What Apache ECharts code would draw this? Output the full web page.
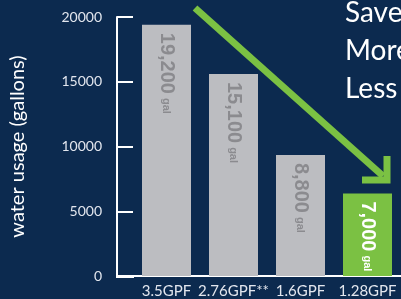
<!DOCTYPE html>
<html>
<head>
<meta charset="utf-8">
<script src="https://cdn.jsdelivr.net/npm/echarts@6/dist/echarts.min.js"></script>
<style>
  html, body { margin: 0; padding: 0; background: #0c2a4f; }
  #chart { width: 401px; height: 299px; }
</style>
</head>
<body>
<div id="chart"></div>
<script>
// toilet flush rate vs yearly water use
const categories = ['3.5GPF', '2.76GPF**', '1.6GPF', '1.28GPF']
const gallons = [19400, 15600, 9350, 6380]
const gallonLabels = ['19,200', '15,100', '8,800', '7,000']
const yTicks = [0, 5000, 10000, 15000, 20000]
const highlight = 3   // the 1.28GPF bar is green

const navy = '#0c2a4f'
const gray = '#bcbdc1'
const green = '#7bc143'

const chart = echarts.init(document.getElementById('chart'), null, { renderer: 'canvas' })

const barData = gallons.map((v, i) => ({
  value: v,
  itemStyle: { color: i === highlight ? green : gray },
  label: { color: i === highlight ? '#ffffff' : '#8b8b8f' }
}))

chart.setOption({
  backgroundColor: navy,
  animation: false,
  grid: { left: 133, right: 0, top: 17, bottom: 22 },
  title: {
    text: 'Save\nMore\nLess',
    left: 345,
    top: -6,
    padding: 0,
    textStyle: { color: '#ffffff', fontSize: 28, fontWeight: 'normal', fontFamily: 'Lato', lineHeight: 38 }
  },
  xAxis: {
    type: 'category',
    data: categories,
    axisLine: { lineStyle: { color: '#ffffff', width: 2 } },
    axisTick: { show: false },
    axisLabel: { color: '#e2e6ee', fontSize: 15, fontFamily: 'Lato', margin: 8, interval: 0 }
  },
  yAxis: {
    type: 'value',
    min: yTicks[0],
    max: yTicks[yTicks.length - 1],
    interval: yTicks[1] - yTicks[0],
    offset: 16,
    name: 'water usage (gallons)',
    nameLocation: 'middle',
    nameGap: 89,
    nameTextStyle: { color: '#ffffff', fontSize: 20, fontFamily: 'Lato' },
    axisLine: { show: true, lineStyle: { color: '#ffffff', width: 2 } },
    axisTick: { show: true, inside: true, length: 16, lineStyle: { color: '#ffffff', width: 2 } },
    splitLine: { show: false },
    axisLabel: {
      color: '#e2e6ee', fontSize: 14, fontFamily: 'Lato', margin: 15, padding: [0, 0, 4, 0],
      formatter: v => String(v)
    }
  },
  series: [{
    type: 'bar',
    data: barData,
    barWidth: 49,
    label: {
      show: true,
      position: 'insideTop',
      distance: 8,
      rotate: -90,
      align: 'left',
      verticalAlign: 'middle',
      formatter: p => '{v|' + gallonLabels[p.dataIndex] + '}{u|gal}',
      rich: {
        v: { fontSize: 20, fontWeight: 'bold', fontFamily: 'Liberation Sans', verticalAlign: 'bottom' },
        u: { fontSize: 11, fontWeight: 'bold', fontFamily: 'Liberation Sans', verticalAlign: 'bottom', padding: [0, 0, 4, 4] }
      }
    }
  }],
  graphic: [
    // close the gap between the offset y axis and the x axis line
    { type: 'line', shape: { x1: 116, y1: 277, x2: 134, y2: 277 }, style: { stroke: '#ffffff', lineWidth: 2 }, z: 10 },
    // green arrow
    { type: 'line', shape: { x1: 195, y1: 8, x2: 383, y2: 176 }, style: { stroke: green, lineWidth: 7 }, z: 5 },
    { type: 'polyline', shape: { points: [[362, 180], [387, 180], [387, 156]] }, style: { stroke: green, lineWidth: 7, fill: null, lineJoin: 'miter' }, z: 5 }
  ]
})
</script>
</body>
</html>
